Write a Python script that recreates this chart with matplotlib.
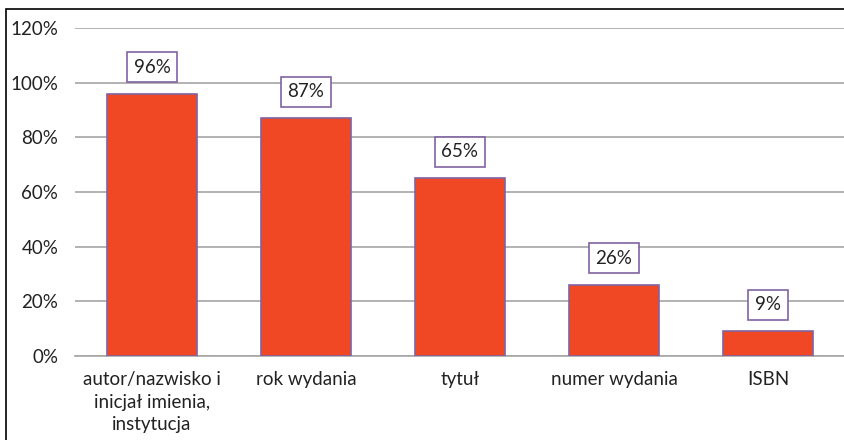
import matplotlib
matplotlib.use("Agg")
import matplotlib.pyplot as plt
from matplotlib.patches import Rectangle

categories = ["autor/nazwisko i\ninicjał imienia,\ninstytucja", "rok wydania", "tytuł", "numer wydania", "ISBN"]
values = [96, 87, 65, 26, 9]
yticks = [0, 20, 40, 60, 80, 100, 120]

plt.rcParams['font.family'] = ['Lato', 'DejaVu Sans']

fig = plt.figure(figsize=(8.45, 4.4), dpi=100)
fig.patches.append(Rectangle((6/845, -0.1), 1.2, 1 - 9/440 + 0.1, transform=fig.transFigure,
                             fill=False, edgecolor='black', linewidth=1.2))
ax = fig.add_axes([75/845, 1 - 356/440, 1 - 75/845, (356 - 28)/440])

x = list(range(len(categories)))
ax.bar(x, values, width=0.58, color='#F04824', edgecolor='#8064A2', linewidth=1.2, zorder=3)
for xi, v in zip(x, values):
    ax.annotate(f"{v}%", (xi, v), xytext=(0, 13), textcoords='offset points',
                ha='center', va='bottom', fontsize=13.5, color='#222222', zorder=4,
                bbox=dict(boxstyle='square,pad=0.35', facecolor='white', edgecolor='#8064A2', linewidth=1.2))

ax.set_xlim(-0.5, len(categories) - 0.5)
ax.set_ylim(0, 120)
ax.set_yticks(yticks)
ax.set_yticklabels([f"{t}%" for t in yticks], fontsize=13.5, color='#222222')
ax.set_xticks(x)
ax.set_xticklabels(categories, fontsize=13.5, color='#222222', linespacing=1.4)
ax.tick_params(axis='both', length=0)
ax.tick_params(axis='y', pad=12)
ax.tick_params(axis='x', pad=11)
ax.grid(axis='y', color='#A6A6A6', linewidth=1.2, zorder=0)
for s in ['top', 'right', 'left']:
    ax.spines[s].set_visible(False)
ax.spines['bottom'].set_color('#A6A6A6')
ax.spines['bottom'].set_linewidth(1.2)

fig.savefig("out.png", dpi=100)
